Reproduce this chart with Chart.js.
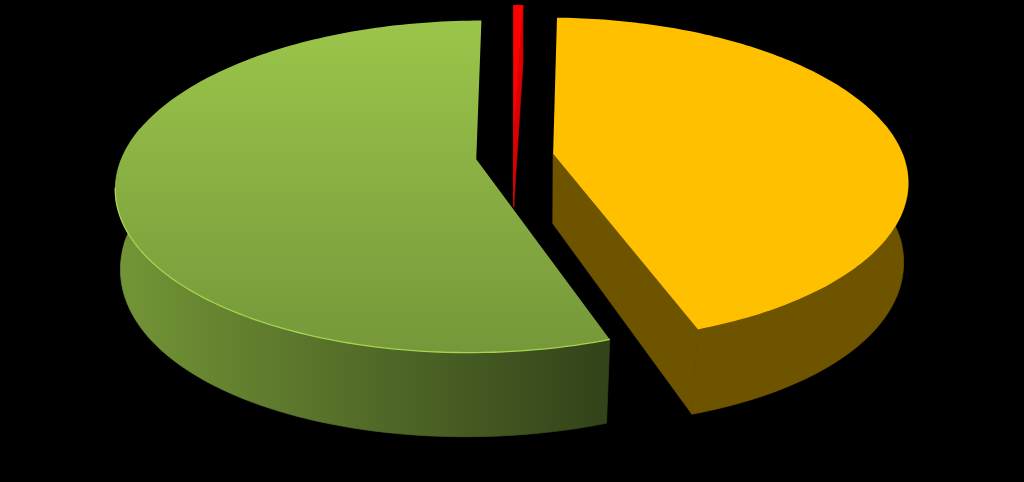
<!DOCTYPE html>
<html>
<head>
<meta charset="utf-8">
<style>
html, body { margin: 0; padding: 0; background: #000; }
#pie { display: block; }
</style>
<script src="https://cdn.jsdelivr.net/npm/chart.js@4"></script>
</head>
<body>
<canvas id="pie" width="1024" height="482"></canvas>
<script>
// values, percent of the pie
var categories = ["Red", "Yellow", "Green"];
var values = [0.5, 44.08, 55.42];
var explode = [0.115, 0.115, 0.105];   // share of the radius
var radii = [1, 0.99, 1];

var topColors = ["#ff0000", "#ffc000", ["#9bc54a", "#76983a"]];
var wallColors = ["#dc0000", "#6f5400", ["#739536", "#33431a"]];
var rimColors = [null, null, "#a6d64f"];

// perspective of the pie's plane on screen
var view = { xc: 513, y0: 156.5, a: 354, b: 160.6, k: 0.1636, depth: 70, flare: 0.15, shrinkFar: 0.008, shrinkNear: 0.035 };

function project(u, v, z) {
  var w = 1 + view.k * v;
  var near = Math.max(0, -v);
  var s = 1 - z * (view.shrinkFar + (view.shrinkNear - view.shrinkFar) * near);
  return {
    x: view.xc + view.a * u / w * s,
    y: view.y0 - view.b * v / w + z * view.depth * (1 + view.flare * u * u) / w
  };
}

function trace(ctx, pts) {
  ctx.beginPath();
  pts.forEach(function (p, i) {
    if (i == 0) ctx.moveTo(p.x, p.y); else ctx.lineTo(p.x, p.y);
  });
  ctx.closePath();
}

function paint(ctx, color, x0, y0, x1, y1) {
  if (typeof color == "string") return color;
  var g = ctx.createLinearGradient(x0, y0, x1, y1);
  g.addColorStop(0, color[0]);
  g.addColorStop(1, color[1]);
  return g;
}

var pie3d = {
  id: "pie3d",
  beforeDatasetsDraw: function (chart) {
    var ctx = chart.ctx;
    var arcs = chart.getDatasetMeta(0).data;
    ctx.save();
    arcs.forEach(function (arc, i) {
      // chart.js angles start at 3 o'clock, plane angle here starts at 12 o'clock
      var a0 = arc.startAngle + Math.PI / 2;
      var a1 = arc.endAngle + Math.PI / 2;
      var mid = (a0 + a1) / 2;
      var cu = Math.sin(mid) * explode[i];
      var cv = Math.cos(mid) * explode[i];
      var rimTop = [], wallTop = [], wallBottom = [];
      var n = 160;
      for (var j = 0; j <= n; j++) {
        var t = a0 + (a1 - a0) * j / n;
        var u = cu + Math.sin(t) * radii[i], v = cv + Math.cos(t) * radii[i];
        rimTop.push(project(u, v, 0));
        // outer wall only on the side of the viewer
        if (Math.cos(t) < 0.2) {
          wallTop.push(project(u, v, 0));
          wallBottom.push(project(u, v, 1));
        }
      }
      var apexTop = project(cu, cv, 0), apexBottom = project(cu, cv, 1);
      var first = project(cu + Math.sin(a0) * radii[i], cv + Math.cos(a0) * radii[i], 1);
      var last = project(cu + Math.sin(a1) * radii[i], cv + Math.cos(a1) * radii[i], 1);
      var wall = paint(ctx, wallColors[i], 118, 0, 604, 0);

      // cut faces only when they turn toward the viewer, then outer wall, then top
      ctx.fillStyle = wall;
      ctx.strokeStyle = wall;
      ctx.lineWidth = 0.7;
      if (Math.sin(a0) < 0 || i == 0) {
        trace(ctx, [apexTop, rimTop[0], first, apexBottom]);
        ctx.fill();
        ctx.stroke();
      }
      if (Math.sin(a1) > 0.001) {
        trace(ctx, [apexTop, rimTop[n], last, apexBottom]);
        ctx.fill();
        ctx.stroke();
      }
      if (wallTop.length) {
        trace(ctx, wallTop.concat(wallBottom.slice().reverse()));
        ctx.fill();
        ctx.stroke();
      }

      ctx.fillStyle = paint(ctx, topColors[i], 0, 22, 0, 350);
      trace(ctx, [apexTop].concat(rimTop));
      ctx.fill();

      if (rimColors[i]) {
        // light bevel along the near edge only
        ctx.strokeStyle = rimColors[i];
        ctx.lineWidth = 1.3;
        ctx.beginPath();
        var pen = false;
        rimTop.forEach(function (p) {
          if (p.y < 185) return;
          if (!pen) { ctx.moveTo(p.x, p.y); pen = true; } else ctx.lineTo(p.x, p.y);
        });
        ctx.stroke();
      }
    });
    ctx.restore();
    return false;
  }
};

new Chart(document.getElementById("pie"), {
  type: "pie",
  data: {
    labels: categories,
    datasets: [{ data: values, backgroundColor: ["#ff0000", "#ffc000", "#8cb345"], borderWidth: 0 }]
  },
  options: {
    responsive: false,
    animation: false,
    plugins: { legend: { display: false }, tooltip: { enabled: false } }
  },
  plugins: [pie3d]
});
</script>
</body>
</html>
